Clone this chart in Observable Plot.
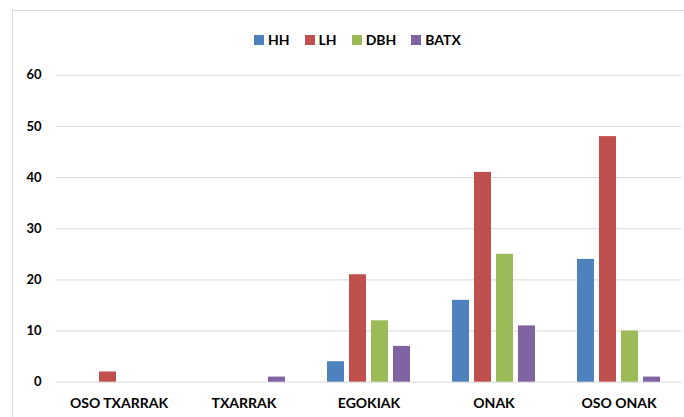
<!DOCTYPE html>
<html>
<head>
<meta charset="utf-8">
<script src="https://cdn.jsdelivr.net/npm/d3@7"></script>
<script src="https://cdn.jsdelivr.net/npm/@observablehq/plot@0.6"></script>
<style>
  html, body { margin: 0; padding: 0; background: #fff; overflow: hidden; width: 684px; height: 417px; }
  #frame { position: absolute; left: 12px; top: 10px; width: 720px; height: 460px; border: 1px solid #d9d9d9; }
  #chart { position: absolute; left: 0; top: 0; }
  #legend { position: absolute; left: 254px; top: 31px; display: flex; align-items: center;
            font-family: Lato, "Open Sans", sans-serif; font-weight: bold; font-size: 14px; color: #000; }
  #legend .item { display: flex; align-items: center; margin-right: 15px; }
  #legend .sw { width: 10px; height: 10px; margin-right: 4px; }
</style>
</head>
<body>
<div id="frame"></div>
<div id="chart"></div>
<div id="legend"></div>
<script>
const categories = ["OSO TXARRAK", "TXARRAK", "EGOKIAK", "ONAK", "OSO ONAK"];
const seriesNames = ["HH", "LH", "DBH", "BATX"];
const seriesColors = ["#4f81bd", "#c0504d", "#9bbb59", "#8064a2"];
const HH = [0, 0, 4, 16, 24];
const LH = [2, 0, 21, 41, 48];
const DBH = [0, 0, 12, 25, 10];
const BATX = [0, 1, 7, 11, 1];
const yTicks = [0, 10, 20, 30, 40, 50, 60];

const seriesValues = [HH, LH, DBH, BATX];
const rows = [];
categories.forEach((c, i) => {
  seriesNames.forEach((s, j) => rows.push({category: c, series: s, value: seriesValues[j][i]}));
});

const chart = Plot.plot({
  width: 684,
  height: 417,
  marginTop: 74.7,
  marginBottom: 35.3,
  marginLeft: 56,
  marginRight: 3,
  style: {fontFamily: "Lato, 'Open Sans', sans-serif", fontSize: "13px", fontWeight: "bold", color: "#000", background: "transparent"},
  fx: {domain: categories, padding: 0, label: null, axis: "bottom", tickSize: 0, tickPadding: 16},
  x: {domain: seriesNames, paddingInner: 0.24, paddingOuter: 0.84, axis: null},
  y: {domain: [0, 60], ticks: yTicks, tickSize: 0, tickPadding: 15, label: null},
  color: {domain: seriesNames, range: seriesColors},
  marks: [
    Plot.ruleY(yTicks, {stroke: "#d9d9d9", strokeWidth: 1}),
    Plot.barY(rows, {fx: "category", x: "series", y: "value", fill: "series", inset: 0})
  ]
});
document.getElementById("chart").appendChild(chart);
d3.select(chart).selectAll('g[aria-label^="fx-axis"] text').attr("font-size", 14).style("font-size", "14px");

const legend = d3.select("#legend");
seriesNames.forEach((s, j) => {
  const it = legend.append("div").attr("class", "item");
  it.append("div").attr("class", "sw").style("background", seriesColors[j]);
  it.append("span").text(s);
});
</script>
</body>
</html>
